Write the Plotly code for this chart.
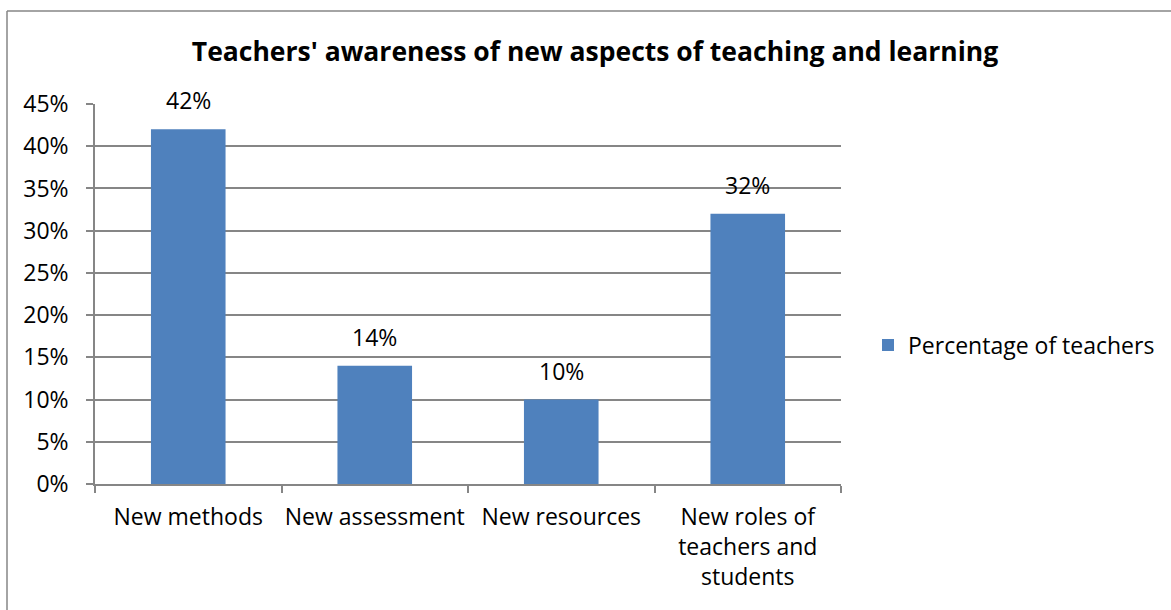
import plotly.graph_objects as go

categories = ["New methods", "New assessment", "New resources",
              "New roles of<br>teachers and<br>students"]
values = [42, 14, 10, 32]
value_labels = ["42%", "14%", "10%", "32%"]
series_name = "Percentage of teachers"
y_ticks = [0, 5, 10, 15, 20, 25, 30, 35, 40, 45]
y_tick_labels = ["0%", "5%", "10%", "15%", "20%", "25%", "30%", "35%", "40%", "45%"]

W, H = 1171, 610
L, R, T, B = 95, 841, 104, 484
FONT = "Open Sans"
FS = 23
BAR = "#4F81BD"
AXIS = "#868686"


def px_x(x):
    return (x - L) / (R - L)


def px_y(y):
    return (B - y) / (B - T)


fig = go.Figure()
fig.add_trace(
    go.Bar(
        x=categories,
        y=values,
        name=series_name,
        marker_color=BAR,
        marker_line_width=0,
        width=0.4,
        showlegend=True,
    )
)

for cat, val, lab in zip(categories, values, value_labels):
    fig.add_annotation(
        x=cat, y=val, text=lab, showarrow=False,
        yanchor="bottom", yshift=11,
        font=dict(family=FONT, size=FS, color="#000000"),
    )

fig.update_layout(
    width=W,
    height=H,
    margin=dict(l=L, r=W - R, t=T, b=H - B, pad=0, autoexpand=False),
    paper_bgcolor="white",
    plot_bgcolor="white",
    font=dict(family=FONT, size=FS, color="#000000"),
    title=dict(
        text="<b>Teachers' awareness of new aspects of teaching and learning</b>",
        x=595 / W, xanchor="center",
        y=1 - 52 / H, yanchor="middle",
        font=dict(family=FONT, size=26.5, color="#000000"),
    ),
    legend=dict(
        x=px_x(868), xanchor="left",
        y=px_y(345), yanchor="middle",
        font=dict(family=FONT, size=FS),
        itemwidth=30,
    ),
    shapes=[
        dict(type="line", xref="paper", yref="paper",
             x0=px_x(7), x1=px_x(W + 5), y0=px_y(11), y1=px_y(11),
             line=dict(color=AXIS, width=1.5)),
        dict(type="line", xref="paper", yref="paper",
             x0=px_x(7), x1=px_x(7), y0=px_y(11), y1=px_y(H + 5),
             line=dict(color=AXIS, width=1.5)),
    ],
)

fig.update_xaxes(
    showline=True, linecolor=AXIS, linewidth=1.5,
    ticks="outside", ticklen=7, tickcolor=AXIS, tickwidth=1.5,
    tickson="boundaries",
    tickangle=0,
    automargin=False,
    ticklabelstandoff=12,
    showgrid=False,
    tickfont=dict(family=FONT, size=FS),
)
fig.update_yaxes(
    range=[0, 45],
    tickvals=y_ticks, ticktext=y_tick_labels,
    showline=True, linecolor=AXIS, linewidth=1.5,
    ticks="outside", ticklen=7, tickcolor=AXIS, tickwidth=1.5,
    ticklabelstandoff=13,
    automargin=False,
    showgrid=True, gridcolor=AXIS, gridwidth=1.5,
    zeroline=False,
    tickfont=dict(family=FONT, size=FS),
)

fig.write_html(
    "out.html",
    config={"displayModeBar": False},
    post_script="document.body.style.margin='0';",
)
